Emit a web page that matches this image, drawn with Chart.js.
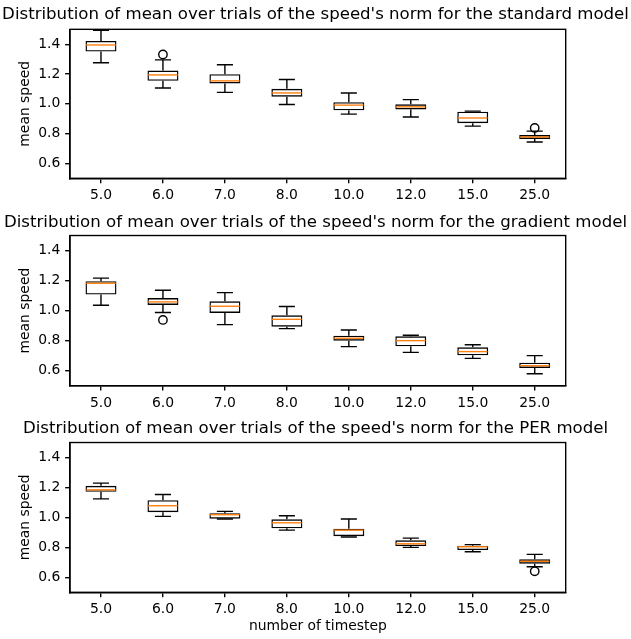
<!DOCTYPE html>
<html>
<head>
<meta charset="utf-8">
<script src="https://cdn.jsdelivr.net/npm/chart.js@4.4.1/dist/chart.umd.min.js"></script>
<style>
  html, body { margin: 0; padding: 0; background: #fff; }
  #wrap { position: relative; width: 631px; height: 639px; }
  canvas { position: absolute; left: 0; }
</style>
</head>
<body>
<div id="wrap">
  <canvas id="standardChart" width="631" height="205" style="top:0px"></canvas>
  <canvas id="gradientChart" width="631" height="205" style="top:205px"></canvas>
  <canvas id="perChart" width="631" height="229" style="top:410px"></canvas>
</div>
<script>
// number of timesteps (categories) and y ticks
const timesteps = ['5.0', '6.0', '7.0', '8.0', '10.0', '12.0', '15.0', '25.0'];
const speedTicks = [0.6, 0.8, 1.0, 1.2, 1.4];

// standard model
const stdLow  = [1.276, 1.106, 1.077, 0.995, 0.931, 0.911, 0.850, 0.744];
const stdQ1   = [1.351, 1.154, 1.137, 1.048, 0.956, 0.962, 0.870, 0.764];
const stdMed  = [1.395, 1.194, 1.154, 1.073, 0.991, 0.980, 0.905, 0.777];
const stdQ3   = [1.422, 1.223, 1.199, 1.101, 1.011, 0.997, 0.947, 0.790];
const stdHigh = [1.493, 1.295, 1.262, 1.163, 1.073, 1.028, 0.951, 0.817];
const stdOut  = [[], [1.331], [], [], [], [], [], [0.838]];

// gradient model
const gradLow  = [1.036, 0.987, 0.907, 0.880, 0.760, 0.722, 0.682, 0.580];
const gradQ1   = [1.107, 1.038, 0.984, 0.893, 0.800, 0.762, 0.702, 0.618];
const gradMed  = [1.182, 1.058, 1.029, 0.942, 0.816, 0.800, 0.727, 0.633];
const gradQ3   = [1.196, 1.084, 1.062, 0.969, 0.833, 0.829, 0.756, 0.653];
const gradHigh = [1.216, 1.136, 1.120, 1.027, 0.871, 0.836, 0.773, 0.700];
const gradOut  = [[], [0.938], [], [], [], [], [], []];

// PER model
const perLow  = [1.124, 1.007, 0.989, 0.915, 0.869, 0.800, 0.771, 0.671];
const perQ1   = [1.171, 1.035, 0.991, 0.927, 0.875, 0.809, 0.782, 0.691];
const perMed  = [1.184, 1.078, 1.018, 0.964, 0.915, 0.824, 0.804, 0.707];
const perQ3   = [1.211, 1.115, 1.027, 0.987, 0.924, 0.847, 0.811, 0.720];
const perHigh = [1.229, 1.153, 1.040, 1.011, 0.989, 0.862, 0.818, 0.753];
const perOut  = [[], [], [], [], [], [], [], [0.640]];

Chart.defaults.font.family = "'DejaVu Sans', sans-serif";
Chart.defaults.font.size = 13.9;
Chart.defaults.color = '#000';

const LW = 1.39;
const TICK = 4.86;

// whiskers, caps, medians and fliers drawn on top of the floating bars
const boxExtras = {
  id: 'boxExtras',
  afterDatasetsDraw(chart, args, opts) {
    const { ctx, chartArea, scales: { x, y } } = chart;
    const step = x.getPixelForValue(1) - x.getPixelForValue(0);
    ctx.save();
    ctx.lineWidth = LW;
    opts.low.forEach((lo, i) => {
      const cx = x.getPixelForValue(i);
      const capHalf = step * 0.13;
      const boxHalf = step * 0.25;
      ctx.strokeStyle = '#000';
      ctx.beginPath();
      // lower whisker + cap
      ctx.moveTo(cx, y.getPixelForValue(opts.q1[i]));
      ctx.lineTo(cx, y.getPixelForValue(lo));
      ctx.moveTo(cx - capHalf, y.getPixelForValue(lo));
      ctx.lineTo(cx + capHalf, y.getPixelForValue(lo));
      // upper whisker + cap
      ctx.moveTo(cx, y.getPixelForValue(opts.q3[i]));
      ctx.lineTo(cx, y.getPixelForValue(opts.high[i]));
      ctx.moveTo(cx - capHalf, y.getPixelForValue(opts.high[i]));
      ctx.lineTo(cx + capHalf, y.getPixelForValue(opts.high[i]));
      ctx.stroke();
      // median
      ctx.strokeStyle = '#ff7f0e';
      ctx.beginPath();
      ctx.moveTo(cx - boxHalf + LW / 2, y.getPixelForValue(opts.med[i]));
      ctx.lineTo(cx + boxHalf - LW / 2, y.getPixelForValue(opts.med[i]));
      ctx.stroke();
      // outliers
      ctx.strokeStyle = '#000';
      opts.out[i].forEach(v => {
        ctx.beginPath();
        ctx.arc(cx, y.getPixelForValue(v), 4.2, 0, Math.PI * 2);
        ctx.stroke();
      });
    });
    // axes frame
    ctx.strokeStyle = '#000';
    ctx.strokeRect(chartArea.left, chartArea.top, chartArea.right - chartArea.left, chartArea.bottom - chartArea.top);
    ctx.restore();
  }
};

function makeBoxChart(id, title, low, q1, med, q3, high, out, layout) {
  const ctx = document.getElementById(id).getContext('2d');
  return new Chart(ctx, {
    type: 'bar',
    data: {
      labels: timesteps,
      datasets: [{
        data: q1.map((v, i) => [v, q3[i]]),
        backgroundColor: 'rgba(0,0,0,0)',
        borderColor: '#000',
        borderWidth: LW,
        borderSkipped: false,
        barPercentage: 0.5,
        categoryPercentage: 1.0
      }]
    },
    options: {
      responsive: false,
      animation: false,
      events: [],
      layout: { padding: 0 },
      plugins: {
        legend: { display: false },
        tooltip: { enabled: false },
        title: {
          display: true,
          text: title,
          font: { size: 16.6, weight: 'normal' },
          color: '#000',
          padding: { top: layout.titleTop, bottom: layout.titleBottom }
        },
        boxExtras: { low, q1, med, q3, high, out }
      },
      scales: {
        x: {
          type: 'category',
          offset: true,
          grid: { drawOnChartArea: false, offset: false, color: '#000', lineWidth: LW, tickLength: TICK },
          border: { color: '#000', width: LW },
          ticks: { padding: 4, maxRotation: 0, autoSkip: false },
          title: {
            display: !!layout.xTitle,
            text: layout.xTitle || '',
            padding: { top: 0, bottom: 4 }
          },
          afterFit: s => { s.height = layout.xHeight; }
        },
        y: {
          min: 0.5,
          max: 1.5,
          grid: { drawOnChartArea: false, color: '#000', lineWidth: LW, tickLength: TICK },
          border: { color: '#000', width: LW },
          ticks: { padding: TICK, callback: v => v.toFixed(1) },
          afterBuildTicks: s => { s.ticks = speedTicks.map(v => ({ value: v })); },
          title: { display: true, text: 'mean speed', padding: { top: 17, bottom: 0 } },
          afterFit: s => { s.width = 70; }
        },
        // empty right axis, only reserves the right margin
        yRight: {
          position: 'right',
          display: true,
          grid: { display: false },
          border: { display: false },
          ticks: { display: false },
          afterFit: s => { s.width = 65.3; }
        }
      }
    },
    plugins: [boxExtras]
  });
}

makeBoxChart('standardChart',
  "Distribution of mean over trials of the speed's norm for the standard model",
  stdLow, stdQ1, stdMed, stdQ3, stdHigh, stdOut,
  { titleTop: 5, titleBottom: 4.4, xHeight: 26.7 });

makeBoxChart('gradientChart',
  "Distribution of mean over trials of the speed's norm for the gradient model",
  gradLow, gradQ1, gradMed, gradQ3, gradHigh, gradOut,
  { titleTop: 7.7, titleBottom: 2.9, xHeight: 24.3 });

makeBoxChart('perChart',
  "Distribution of mean over trials of the speed's norm for the PER model",
  perLow, perQ1, perMed, perQ3, perHigh, perOut,
  { titleTop: 9, titleBottom: 3.6, xHeight: 46.7, xTitle: 'number of timestep' });
</script>
</body>
</html>
